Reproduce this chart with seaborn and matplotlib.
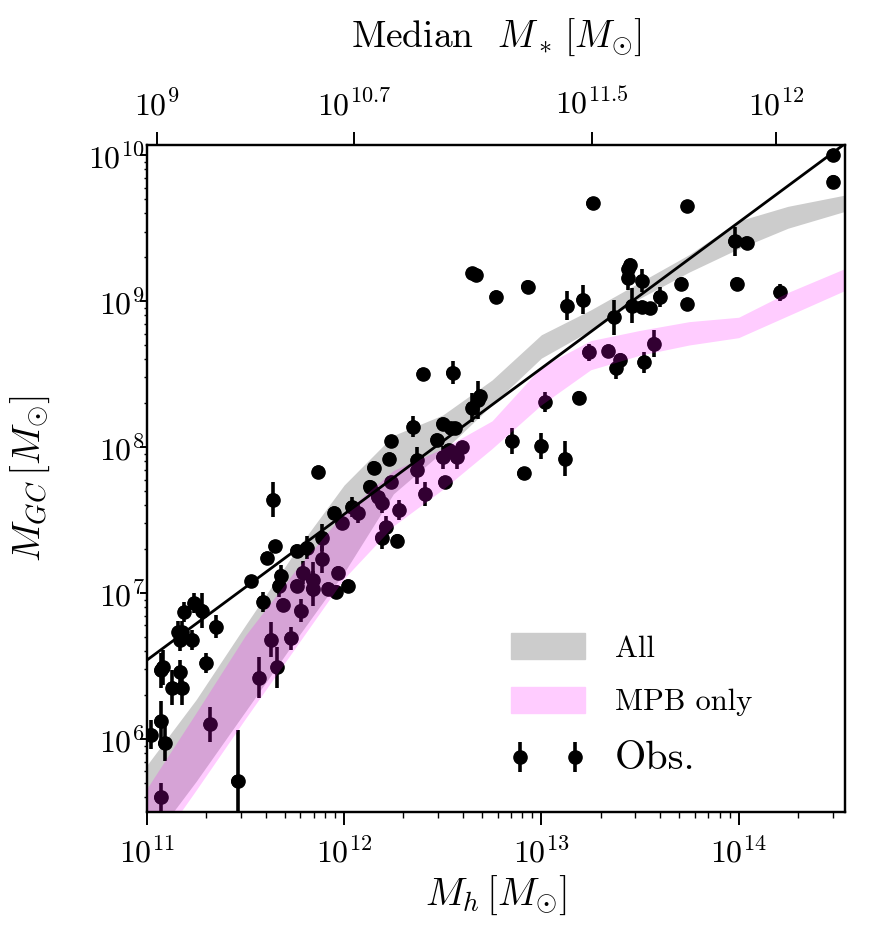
import numpy as np
import seaborn as sns
import matplotlib.pyplot as plt
from matplotlib.patches import Patch

# simulation bands (log10 Mh -> log10 M_GC, lower / upper edge)
band_log_mh = [11.0, 11.25, 11.5, 11.75, 12.0, 12.25, 12.5, 12.75, 13.0, 13.25, 13.5, 13.75, 14.0, 14.25, 14.55]
all_lo = [5.26, 5.71, 6.19, 6.67, 7.14, 7.68, 7.97, 8.29, 8.61, 8.80, 9.02, 9.20, 9.36, 9.50, 9.62]
all_hi = [5.82, 6.27, 6.78, 7.28, 7.74, 8.08, 8.22, 8.46, 8.77, 8.94, 9.13, 9.32, 9.55, 9.65, 9.73]
mpb_lo = [5.17, 5.65, 6.14, 6.62, 7.10, 7.46, 7.71, 7.99, 8.29, 8.53, 8.63, 8.70, 8.75, 8.90, 9.08]
mpb_hi = [5.66, 6.18, 6.71, 7.15, 7.55, 7.84, 7.99, 8.18, 8.55, 8.73, 8.80, 8.86, 8.89, 9.06, 9.23]

# observed galaxies (log10 Mh, log10 M_GC, error in dex)
obs_log_mh = [13.26, 13.74, 14.48, 14.48, 13.98, 14.04, 13.99, 14.21, 12.65, 12.67,
              12.77, 12.93, 13.13, 13.21, 13.45, 13.44, 13.44, 13.51, 13.37, 13.46,
              13.51, 13.55, 13.60, 13.71, 13.74, 13.24, 13.34, 13.40, 13.38, 13.52,
              13.57, 12.55, 12.40, 13.19, 13.02, 12.65, 12.69, 12.68, 12.50, 12.54,
              12.56, 12.85, 13.00, 13.12, 12.91, 12.51, 12.50, 12.53, 12.57, 12.60,
              12.35, 12.24, 12.47, 12.23, 12.15, 12.37, 12.37,
              12.13, 12.17, 12.19, 12.24, 12.28, 12.41,
              12.21, 12.19, 12.27, 11.95, 12.04,
              12.07, 11.99, 11.87, 11.64, 11.65, 11.61, 11.76, 11.81, 11.53, 11.68,
              11.67, 11.76, 11.79, 11.89, 11.89, 11.84, 11.84, 11.78, 11.69, 11.59,
              11.97, 11.92, 11.96, 12.02, 11.35, 11.24, 11.28, 11.19, 11.16, 11.18,
              11.17, 11.23, 11.07, 11.08, 11.17, 11.13, 11.18, 11.30, 11.57, 11.63,
              11.66, 11.73, 11.02, 11.07, 11.09, 11.32, 11.46, 11.07]
obs_log_mgc = [9.67, 9.65, 10.00, 9.82, 9.41, 9.40, 9.12, 9.06, 9.19, 9.18,
               9.03, 9.10, 8.97, 9.01, 9.25, 9.22, 9.16, 9.14, 8.89, 8.97,
               8.96, 8.95, 9.03, 9.12, 8.98, 8.65, 8.66, 8.60, 8.54, 8.58,
               8.71, 8.51, 8.50, 8.34, 8.31, 8.27, 8.35, 8.32, 8.16, 8.13,
               8.13, 8.04, 8.01, 7.92, 7.82, 7.76, 7.93, 7.98, 7.93, 8.00,
               8.14, 8.04, 8.05, 7.92, 7.86, 7.91, 7.84,
               7.73, 7.66, 7.62, 7.76, 7.57, 7.68,
               7.45, 7.38, 7.36, 7.55, 7.59,
               7.55, 7.48, 7.83, 7.64, 7.32, 7.24, 7.29, 7.31, 7.08, 7.12,
               7.05, 7.05, 7.14, 7.38, 7.23, 7.09, 7.03, 6.88, 6.92, 6.94,
               7.14, 7.03, 7.01, 7.05, 6.77, 6.93, 6.88, 6.87, 6.73, 6.73,
               6.68, 6.68, 6.47, 6.49, 6.46, 6.35, 6.35, 6.52, 6.42, 6.68,
               6.49, 6.69, 6.03, 6.12, 5.97, 6.10, 5.71, 5.60]
obs_err = [0.03, 0.0, 0.0, 0.0, 0.10, 0.0, 0.0, 0.06, 0.0, 0.0,
           0.0, 0.0, 0.10, 0.10, 0.0, 0.0, 0.08, 0.08, 0.12, 0.12,
           0.0, 0.0, 0.07, 0.0, 0.0, 0.06, 0.0, 0.0, 0.07, 0.07,
           0.09, 0.08, 0.0, 0.0, 0.07, 0.10, 0.0, 0.13, 0.0, 0.0,
           0.0, 0.09, 0.09, 0.12, 0.0, 0.0, 0.08, 0.0, 0.08, 0.0,
           0.07, 0.0, 0.0, 0.0, 0.0, 0.09, 0.09,
           0.0, 0.07, 0.07, 0.0, 0.07, 0.08,
           0.08, 0.08, 0.0, 0.0, 0.07,
           0.07, 0.0, 0.0, 0.12, 0.0, 0.0, 0.0, 0.08, 0.0, 0.07,
           0.08, 0.0, 0.08, 0.09, 0.09, 0.12, 0.12, 0.08, 0.0, 0.07,
           0.0, 0.0, 0.0, 0.0, 0.08, 0.07, 0.12, 0.07, 0.08, 0.08,
           0.08, 0.07, 0.12, 0.12, 0.08, 0.12, 0.12, 0.07, 0.14, 0.12,
           0.14, 0.08, 0.10, 0.14, 0.12, 0.12, 0.35, 0.10]

# best-fit linear relation in log space
fit_slope = 1.0
fit_norm = -4.46

# top axis: median stellar mass at given halo masses
top_tick_log_mh = [11.05, 12.05, 13.255, 14.19]
top_tick_labels = [r"$10^{9}$", r"$10^{10.7}$", r"$10^{11.5}$", r"$10^{12}$"]

sns.set_theme(style="ticks")
plt.rcParams.update({
    "font.family": "serif",
    "font.serif": ["cmr10"],
    "mathtext.fontset": "cm",
    "axes.formatter.use_mathtext": True,
    "text.color": "black", "axes.labelcolor": "black", "axes.edgecolor": "black",
    "xtick.color": "black", "ytick.color": "black",
    "axes.linewidth": 1.6,
    "xtick.major.width": 1.4, "ytick.major.width": 1.4,
    "xtick.minor.width": 1.0, "ytick.minor.width": 1.0,
    "xtick.major.size": 9.5, "ytick.major.size": 5,
    "xtick.minor.size": 4, "ytick.minor.size": 2.5,
    "xtick.labelsize": 23, "ytick.labelsize": 23,
})

fig = plt.figure(figsize=(8.74, 9.48), dpi=100)
ax = fig.add_axes([0.168, 0.1435, 0.799, 0.7035])
ax.set_xscale("log")
ax.set_yscale("log")

bx = 10 ** np.array(band_log_mh)
ax.fill_between(bx, 10 ** np.array(all_lo), 10 ** np.array(all_hi),
                color="#cccccc", lw=0, zorder=1)

ox = 10 ** np.array(obs_log_mh)
oy = 10 ** np.array(obs_log_mgc)
oe = np.array(obs_err)
yerr = [oy - 10 ** (np.array(obs_log_mgc) - oe), 10 ** (np.array(obs_log_mgc) + oe) - oy]
eb = ax.errorbar(ox, oy, yerr=yerr, fmt="o", color="black", ms=9.5, elinewidth=2.6,
                 capsize=0, zorder=3)
sns.scatterplot(x=ox, y=oy, color="black", s=90, edgecolor="none", zorder=3, ax=ax)

ax.fill_between(bx, 10 ** np.array(mpb_lo), 10 ** np.array(mpb_hi),
                color="magenta", alpha=0.2, lw=0, zorder=4)

xlim = (1e11, 10 ** 14.54)
fx = np.logspace(11, 14.54, 50)
ax.plot(fx, 10 ** (fit_slope * np.log10(fx) + fit_norm), color="black", lw=2, zorder=5)

ax.set_xlim(*xlim)
ax.set_ylim(10 ** 5.5, 10 ** 10.07)
ax.set_xlabel(r"$M_h\,[M_{\odot}]$", fontsize=28, labelpad=4)
ax.set_ylabel(r"$M_{GC}\,[M_{\odot}]$", fontsize=28, labelpad=26)
ax.tick_params(which="both", direction="out", top=False, right=False)
ax.tick_params(axis="x", pad=8)
ax.tick_params(axis="y", pad=-3.5)

ax2 = ax.twiny()
ax2.set_xscale("log")
ax2.set_xlim(*xlim)
ax2.set_xticks(10 ** np.array(top_tick_log_mh))
ax2.set_xticklabels(top_tick_labels)
ax2.xaxis.set_minor_locator(plt.NullLocator())
ax2.tick_params(direction="out", labelsize=23, pad=8)
ax2.set_xlabel(r"Median  $M_*\,[M_{\odot}]$", fontsize=27, labelpad=30)

handles = [Patch(color="#cccccc"), Patch(color="#ffccff"), eb]
leg = ax.legend(handles, ["All", "MPB only", "Obs."], loc="lower left",
                bbox_to_anchor=(0.5, 0.03), frameon=False, fontsize=22,
                numpoints=2, handlelength=2.4, handleheight=0.9,
                handletextpad=1.0, labelspacing=0.8, borderpad=0)
leg.get_texts()[2].set_fontsize(29)

fig.savefig("out.png", dpi=100)
